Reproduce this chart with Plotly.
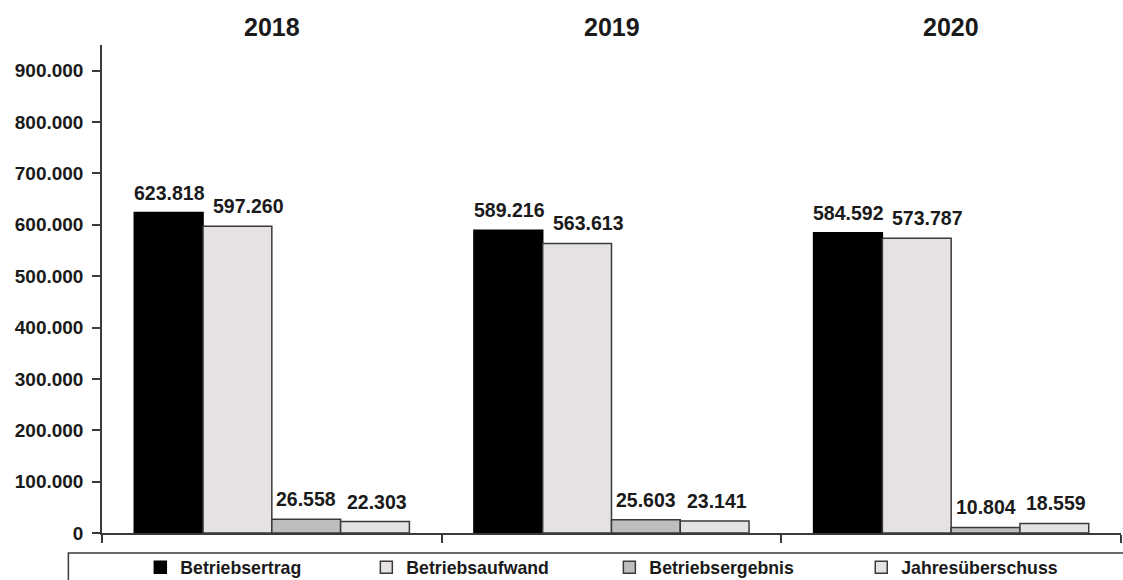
import plotly.graph_objects as go

# Jahresvergleich der Ergebniskennzahlen (Werte in EUR)
years = ["2018", "2019", "2020"]
series_names = ["Betriebsertrag", "Betriebsaufwand", "Betriebsergebnis", "Jahresüberschuss"]
betriebsertrag = [623818, 589216, 584592]
betriebsaufwand = [597260, 563613, 573787]
betriebsergebnis = [26558, 25603, 10804]
jahresueberschuss = [22303, 23141, 18559]
y_ticks = [0, 100000, 200000, 300000, 400000, 500000, 600000, 700000, 800000, 900000]

series_values = [betriebsertrag, betriebsaufwand, betriebsergebnis, jahresueberschuss]
fill_colors = ["#000000", "#e6e2e3", "#bebebe", "#e4e3e3"]
line_colors = ["#000000", "#3a3a3a", "#3a3a3a", "#3a3a3a"]
label_xshift = [1, 11, 0, 2]          # seitlicher Versatz der Wertelabels (px)
legend_ids = ["legend", "legend2", "legend3", "legend4"]
legend_x = [0.0376, 0.2594, 0.4979, 0.7451]

FONT = "Arial, Liberation Sans, sans-serif"
TEXT = "#1a1a1a"
BARGAP = 0.19

fig = go.Figure()
n = len(series_names)
bar_w = (1 - BARGAP) / n
for k, (name, vals, fc, lc, lg) in enumerate(
        zip(series_names, series_values, fill_colors, line_colors, legend_ids)):
    fig.add_trace(go.Bar(
        name=name,
        x=years,
        y=vals,
        legend=lg,
        marker=dict(color=fc, line=dict(color=lc, width=1.5)),
    ))
    # Wertelabels über den Säulen
    for i, v in enumerate(vals):
        fig.add_annotation(
            x=i - (1 - BARGAP) / 2 + (k + 0.5) * bar_w, xref="x",
            y=v, yref="y",
            text=f"<b>{v:,.0f}</b>".replace(",", "."),
            showarrow=False, yanchor="bottom", xanchor="center",
            xshift=label_xshift[k], yshift=7,
            font=dict(family=FONT, size=19.5, color=TEXT),
        )

# Jahresüberschriften über den Gruppen
for i, yr in enumerate(years):
    fig.add_annotation(
        x=i, xref="x", y=1.037, yref="paper",
        text=f"<b>{yr}</b>", showarrow=False,
        font=dict(family=FONT, size=25, color=TEXT),
        yanchor="middle",
    )

# Rahmen der Legende
fig.add_shape(
    type="rect", xref="paper", yref="paper",
    x0=-0.033, x1=1.2, y0=-0.3, y1=-0.041,
    line=dict(color="#3a3a3a", width=1.5), fillcolor="rgba(0,0,0,0)",
)

legend_style = dict(
    orientation="h", xanchor="left", y=-0.0334, yanchor="top",
    font=dict(family=FONT, size=17.7, color=TEXT, weight="bold"),
    bgcolor="rgba(0,0,0,0)",
)

fig.update_layout(
    width=1123, height=580,
    margin=dict(l=102, r=2, t=45, b=47, autoexpand=False),
    paper_bgcolor="white", plot_bgcolor="white",
    separators=",.",
    barmode="group", bargap=BARGAP, bargroupgap=0,
    font=dict(family=FONT, color=TEXT),
    showlegend=True,
    xaxis=dict(
        type="category", range=[-0.5, 2.5],
        showline=True, linecolor="#3a3a3a", linewidth=1.5,
        ticks="outside", tickson="boundaries", ticklen=8, tickcolor="#3a3a3a", tickwidth=1.5,
        showticklabels=False, showgrid=False, zeroline=False,
    ),
    yaxis=dict(
        range=[0, 950000],
        tickvals=y_ticks, tickformat=",.0f",
        tickfont=dict(family=FONT, size=19, color=TEXT, weight="bold"),
        showline=True, linecolor="#3a3a3a", linewidth=1.5,
        ticks="outside", ticklen=8, tickcolor="#3a3a3a", tickwidth=1.5,
        ticklabelstandoff=5,
        showgrid=False, zeroline=False,
    ),
)
for lg, lx in zip(legend_ids, legend_x):
    fig.update_layout({lg: dict(legend_style, x=lx)})

fig.write_html("out.html")
